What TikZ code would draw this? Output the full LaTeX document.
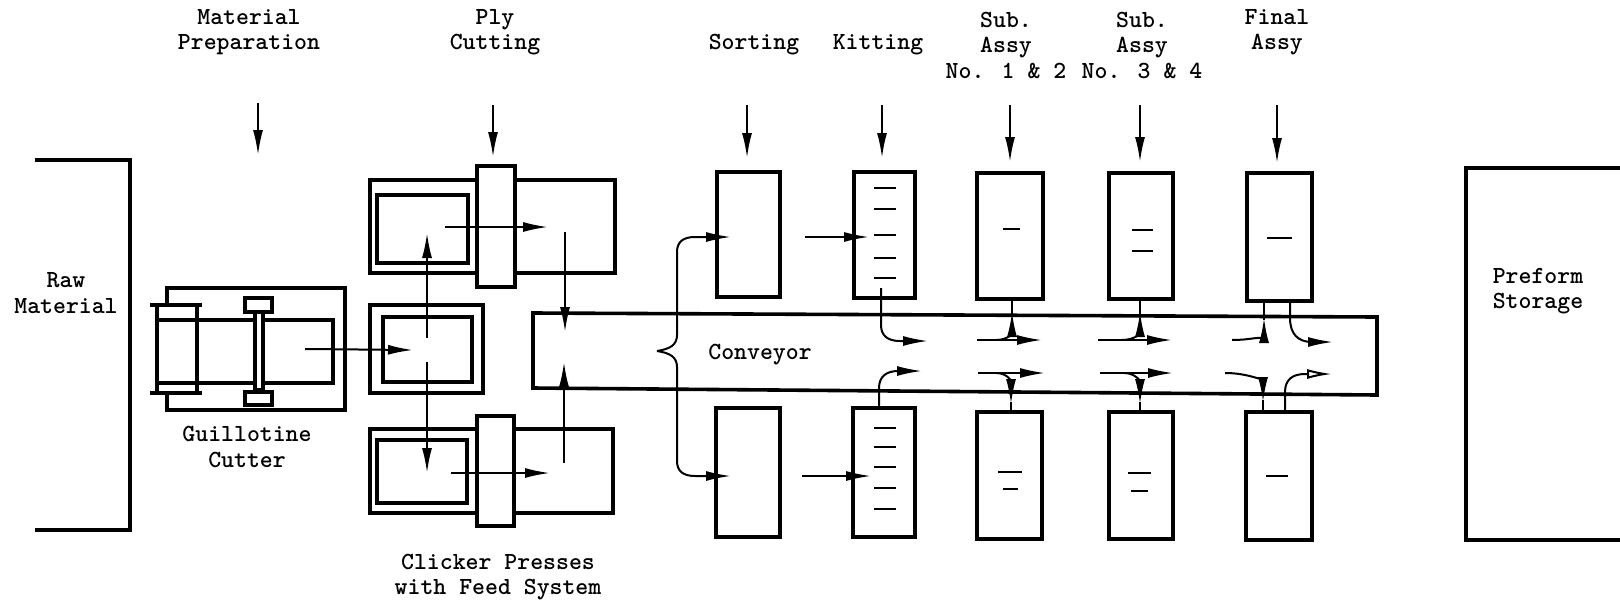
\documentclass[tikz,border=0pt]{standalone}
\usepackage{fontspec}
\usetikzlibrary{arrows.meta}
\begin{document}
\begin{tikzpicture}[x=0.5pt,y=-0.5pt,
  box/.style={line width=1.8pt},
  ln/.style={line width=1pt},
  arr/.style={line width=1pt,-{Latex[length=12.5pt,width=5pt]}},
  oarr/.style={line width=1pt,-{Latex[open,length=12.5pt,width=5pt]}},
  dsh/.style={line width=1.1pt},
  lbl/.style={font=\ttfamily\bfseries\fontsize{12.3}{12.75}\selectfont, align=center, inner sep=0pt}]
\useasboundingbox (0,0) rectangle (1620,605);
\fill[white] (0,0) rectangle (1620,605);

% ---------- top labels ----------
\node[lbl] (lmat) at (249,32) {Material\\Preparation};
\node[lbl] (lply) at (495,32) {Ply\\Cutting};
\node[lbl] (lsort) at (754,45) {Sorting};
\node[lbl] (lkit) at (878,45) {Kitting};
\node[lbl] (lsub1) at (1006,45) {Sub.\\Assy\\No. 1 \& 2};
\node[lbl] (lsub2) at (1142,45) {Sub.\\Assy\\No. 3 \& 4};
\node[lbl] (lfin) at (1277,32) {Final\\Assy};

% ---------- top arrows ----------
\draw[arr] (258,103) -- (258,155);
\draw[arr] (493,105) -- (493,157);
\draw[arr] (747,105) -- (747,158);
\draw[arr] (882,105) -- (882,158);
\draw[arr] (1010,105) -- (1010,162);
\draw[arr] (1140,105) -- (1140,162);
\draw[arr] (1277,105) -- (1277,163);

% ---------- raw material ----------
\draw[box] (35,160) -- (130,160) -- (130,530) -- (35,530);
\node[lbl] (lraw) at (66,293) {Raw\\Material};

% ---------- guillotine cutter ----------
\draw[box] (167,288) rectangle (345,410);
\fill[white] (157,305) rectangle (197,393);
\draw[box] (157,305) -- (157,393) (197,305) -- (197,393);
\draw[box] (150,305) -- (202,305) (150,393) -- (202,393);
\draw[box] (157,320) -- (333,320) -- (333,383) -- (157,383);
\draw[box,fill=white] (255,312) rectangle (263,390);
\draw[box,fill=white] (245,298) rectangle (272,312);
\draw[box,fill=white] (245,392) rectangle (272,405);
\node[lbl] (lguil) at (247,447) {Guillotine\\Cutter};

% ---------- clicker presses ----------
\draw[box] (370,180) rectangle (615,273);
\draw[box,fill=white] (477,166) rectangle (515,287);
\draw[box] (377,195) rectangle (468,263);
\draw[box] (370,305) rectangle (483,393);
\draw[box] (383,317) rectangle (472,382);
\draw[box] (370,429) rectangle (613,513);
\draw[box,fill=white] (477,416) rectangle (514,526);
\draw[box] (377,440) rectangle (467,503);
\node[lbl] (lclick) at (498,577) {Clicker Presses\\with Feed System};

\draw[arr] (305,349) -- (413,350);
\draw[arr] (427,338) -- (427,233);
\draw[arr] (427,362) -- (427,473);
\draw[arr] (445,227) -- (548,227);
\draw[arr] (451,473) -- (550,473);

% ---------- conveyor ----------
\draw[box] (533,313) -- (1377,317) -- (1377,395) -- (533,388) -- cycle;
\node[lbl] (lconv) at (760,355) {Conveyor};
\draw[arr] (565,232) -- (565,332);
\draw[arr] (564,463) -- (564,362);

% brace
\draw[arr] (657,351) .. controls (670,349) and (677,345) .. (677,335) -- (677,252)
  .. controls (677,242) and (683,237) .. (695,237) -- (731,237);
\draw[arr] (657,351) .. controls (670,353) and (677,357) .. (677,367) -- (677,461)
  .. controls (677,471) and (683,476) .. (695,476) -- (731,476);

% ---------- sorting / kitting ----------
\draw[box] (717,172) rectangle (780,297);
\draw[box] (716,408) rectangle (780,537);
\draw[box] (854,172) rectangle (915,298);
\draw[box] (853,408) rectangle (915,537);
\foreach \y in {188,209,235,258,278} \draw[dsh] (874,\y) -- (896,\y);
\foreach \y in {428,447,467,488,509} \draw[dsh] (874,\y) -- (896,\y);
\draw[arr] (805,237) -- (869,237);
\draw[arr] (802,476) -- (871,476);
\draw[arr] (881,288) -- (881,325) .. controls (881,336) and (888,341) .. (900,341) -- (928,341);
\draw[arr] (879,408) -- (879,388) .. controls (879,377) and (886,371) .. (898,371) -- (922,371);

% ---------- sub assy 1 ----------
\draw[box] (977,173) rectangle (1043,299);
\draw[box] (977,412) rectangle (1042,539);
\draw[dsh] (1003,229) -- (1020,229);
\draw[dsh] (998,472) -- (1022,472);
\draw[dsh] (1003,489) -- (1018,489);
\draw[arr] (977,340) -- (1042,340);
\draw[arr] (978,373) -- (1045,373);
\draw[arr] (996,340) .. controls (1009,340) and (1012,332) .. (1012,312);
\draw[ln] (1012,314) -- (1012,299);
\draw[arr] (996,373) .. controls (1008,373) and (1011,382) .. (1011,404);
\draw[ln] (1011,402) -- (1011,412);

% ---------- sub assy 2 ----------
\draw[box] (1109,173) rectangle (1173,299);
\draw[box] (1109,412) rectangle (1173,539);
\draw[dsh] (1132,230) -- (1153,230);
\draw[dsh] (1132,251) -- (1153,251);
\draw[dsh] (1128,473) -- (1151,473);
\draw[dsh] (1131,491) -- (1148,491);
\draw[arr] (1098,340) -- (1172,340);
\draw[arr] (1100,373) -- (1173,373);
\draw[arr] (1122,340) .. controls (1136,340) and (1140,332) .. (1140,312);
\draw[ln] (1140,314) -- (1140,299);
\draw[arr] (1124,373) .. controls (1136,373) and (1140,382) .. (1140,404);
\draw[ln] (1140,402) -- (1140,412);

% ---------- final assy ----------
\draw[box] (1247,173) rectangle (1312,301);
\draw[box] (1246,412) rectangle (1312,540);
\draw[dsh] (1267,238) -- (1292,238);
\draw[dsh] (1266,476) -- (1288,476);
\draw[arr] (1232,340) .. controls (1255,340) and (1264,334) .. (1264,318);
\draw[ln] (1264,320) -- (1264,301);
\draw[arr] (1290,301) -- (1290,318) .. controls (1290,334) and (1298,342) .. (1312,342) -- (1333,342);
\draw[arr] (1225,373) .. controls (1250,373) and (1263,382) .. (1263,402);
\draw[ln] (1263,400) -- (1263,412);
\draw[oarr] (1285,412) -- (1285,392) .. controls (1285,380) and (1292,374) .. (1305,374) -- (1332,374);

% ---------- preform storage ----------
\draw[box] (1620,168) -- (1466,168) -- (1466,540) -- (1620,540);
\node[lbl] (lpre) at (1538,291) {Preform\\Storage};
\end{tikzpicture}
\end{document}
